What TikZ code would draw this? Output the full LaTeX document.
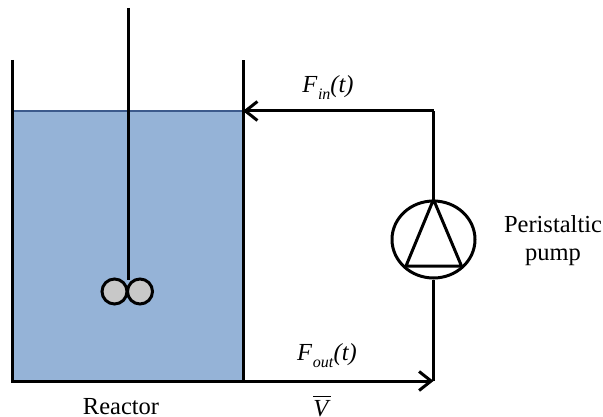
\documentclass[tikz,border=0pt]{standalone}
\usepackage{fontspec}
\setmainfont{Liberation Serif}
\usetikzlibrary{shapes.geometric,arrows.meta}
\definecolor{water}{RGB}{149,179,215}
\definecolor{waterline}{RGB}{60,90,140}
\definecolor{ball}{RGB}{200,200,200}
\newcommand{\flowlabel}[1]{\textit{F}\kern0.5pt\raisebox{-7pt}{\fontsize{16}{18}\selectfont\textit{#1}}\textit{(t)}}
\begin{document}
\begin{tikzpicture}[x=1pt,y=-1pt,
  wall/.style={line width=3pt,black},
  pipe/.style={line width=3pt,black},
  flow/.style={pipe,-{Straight Barb[length=12pt,width=19pt,line width=3pt]}},
  ballst/.style={circle,draw=black,line width=3pt,fill=ball,minimum size=25pt,inner sep=0pt},
  pumpst/.style={ellipse,draw=black,line width=3pt,minimum width=83pt,minimum height=77pt,inner sep=0pt},
  lbl/.style={font=\fontsize{24.5}{28}\selectfont,inner sep=0pt,align=center}]
\useasboundingbox (0,0) rectangle (603,417);
\fill[white] (0,0) rectangle (603,417);
\fill[water] (12,111) rectangle (243,381);
\draw[line width=2.6pt,waterline] (12,111) -- (243,111);
\coordinate (wlt) at (12,60);
\coordinate (wlb) at (12,381);
\coordinate (wrt) at (243,60);
\coordinate (wrb) at (243,381);
\coordinate (wri) at (243,111);
\coordinate (cin) at (433.5,111);
\coordinate (cout) at (433.5,381);
\coordinate (shtop) at (128,8);
\node[ballst] (b1) at (114.5,291.5) {};
\node[ballst] (b2) at (140,291.5) {};
\coordinate (shbot) at (128,280);
\draw[wall] (shtop) -- (shbot);
\draw[wall] (wlt) -- (wlb) -- (wrb) -- (wrt);
\node[pumpst] (pump) at (433.5,239.5) {};
\coordinate (tl) at (406,266);
\coordinate (tr) at (461.5,266);
\draw[pipe,line join=round] (pump.north) -- (tl) -- (tr) -- cycle;
\draw[pipe] (pump.north) -- (cin);
\draw[flow] (cin) -- (wri);
\draw[pipe] (pump.south) -- (cout);
\draw[flow] (wrb) -- (cout);
\node[lbl,anchor=base] (lin) at (328,93) {\flowlabel{in}};
\node[lbl,anchor=base] (lout) at (327,360) {\flowlabel{out}};
\node[lbl,anchor=base] (lv) at (322,416) {$\overline{\mbox{\rule{0pt}{18pt}\textit{V}}}$};
\node[lbl,anchor=base] (lr) at (121,414.5) {Reactor};
\node[lbl,anchor=center] (lp) at (553,241) {Peristaltic\\pump};
\end{tikzpicture}
\end{document}
